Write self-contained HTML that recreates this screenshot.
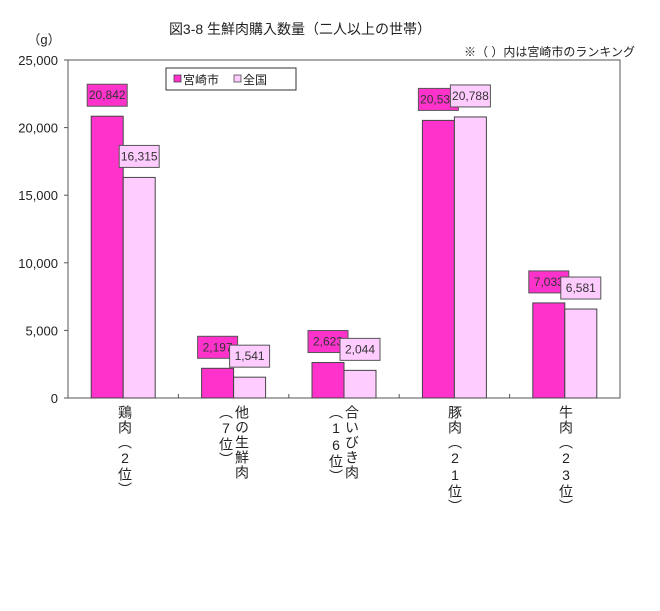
<!DOCTYPE html>
<html><head><meta charset="utf-8">
<style>
body{margin:0;background:#fff;font-family:"Liberation Sans","Noto Sans CJK JP",sans-serif;}
#wrap{position:relative;width:660px;height:611px;overflow:hidden;}
.vl{position:absolute;top:405px;writing-mode:vertical-rl;text-orientation:upright;font-size:14px;line-height:16px;color:#222;letter-spacing:1px;}
</style></head><body>
<div id="wrap">
<svg id="chart" width="660" height="611" font-family="Liberation Sans, Noto Sans CJK JP, sans-serif">
<text x="300" y="34" font-size="14" text-anchor="middle" fill="#222">図3-8 生鮮肉購入数量（二人以上の世帯）</text>
<text x="635" y="56" font-size="12" text-anchor="end" fill="#222">※（ ）内は宮崎市のランキング</text>
<text x="44" y="44" font-size="13" text-anchor="middle" fill="#222">（g）</text>
<rect x="68" y="60" width="552" height="338" fill="none" stroke="#555" stroke-width="1"/>
<g id="axis"></g>
<g id="bars"></g>
<g>
<rect x="166" y="68" width="130" height="22" fill="#fff" stroke="#333"/>
<rect x="174" y="75" width="7" height="7" fill="#ff33cc" stroke="#333" stroke-width="0.7"/>
<text x="183" y="84" font-size="12" fill="#222">宮崎市</text>
<rect x="234" y="75" width="7" height="7" fill="#ffccff" stroke="#333" stroke-width="0.7"/>
<text x="243" y="84" font-size="12" fill="#222">全国</text>
</g>
</svg>
<div class="vl" style="left:117px">鶏肉︵2位︶</div>
<div class="vl" style="left:218px">他の生鮮肉<br>︵7位︶</div>
<div class="vl" style="left:328px">合いびき肉<br>︵16位︶</div>
<div class="vl" style="left:447px">豚肉︵21位︶</div>
<div class="vl" style="left:558px">牛肉︵23位︶</div>
</div>
<script>
const categories=["鶏肉","他の生鮮肉","合いびき肉","豚肉","牛肉"];
const miyazaki=[20842,2197,2623,20533,7033];
const national=[16315,1541,2044,20788,6581];
const yTicks=[0,5000,10000,15000,20000,25000];
const NS="http://www.w3.org/2000/svg";
const L=68,R=620,T=60,B=398,YMAX=25000;
const y=v=>B-(v/YMAX)*(B-T);
const bw=(R-L)/categories.length;
const x=i=>L+bw*i;
const fmt=v=>v.toLocaleString("en-US");
function mk(tag,attrs,parent){const e=document.createElementNS(NS,tag);for(const k in attrs)e.setAttribute(k,attrs[k]);parent.appendChild(e);return e;}
const ax=document.getElementById("axis"),bars=document.getElementById("bars");
yTicks.forEach(t=>{
 const l=mk("line",{x1:L-4,x2:L,y1:y(t),y2:y(t),stroke:"#555"},ax);
 
 
 const tx=mk("text",{x:L-10,y:y(t)+5,"font-size":13,"text-anchor":"end",fill:"#222"},ax);
 tx.textContent=fmt(t);
 
 
});
for(let i=1;i<categories.length;i++){
 const l=mk("line",{x1:x(i),x2:x(i),y1:B-4,y2:B,stroke:"#555"},ax);
 
 
}
const W=32;
function bar(v,bx,fill,name){
 const r=mk("rect",{x:bx,y:y(v),width:W,height:B-y(v),fill:fill,stroke:"#444","stroke-width":1},bars);
 
 
 const lw=40,lh=22,ly=y(v)-10-lh;
 const b=mk("rect",{x:bx+W/2-lw/2,y:ly,width:lw,height:lh,fill:fill,stroke:"#555"},bars);
 
 
 const t=mk("text",{x:bx+W/2,y:ly+15,"font-size":12,"text-anchor":"middle",fill:"#333"},bars);
 t.textContent=fmt(v);
 
 
}
categories.forEach((c,i)=>{
 const cx=x(i)+bw/2;
 bar(miyazaki[i],cx-W,"#ff33cc","bar-miyazaki-"+i);
 bar(national[i],cx,"#ffccff","bar-national-"+i);
});
</script>
</body></html>
